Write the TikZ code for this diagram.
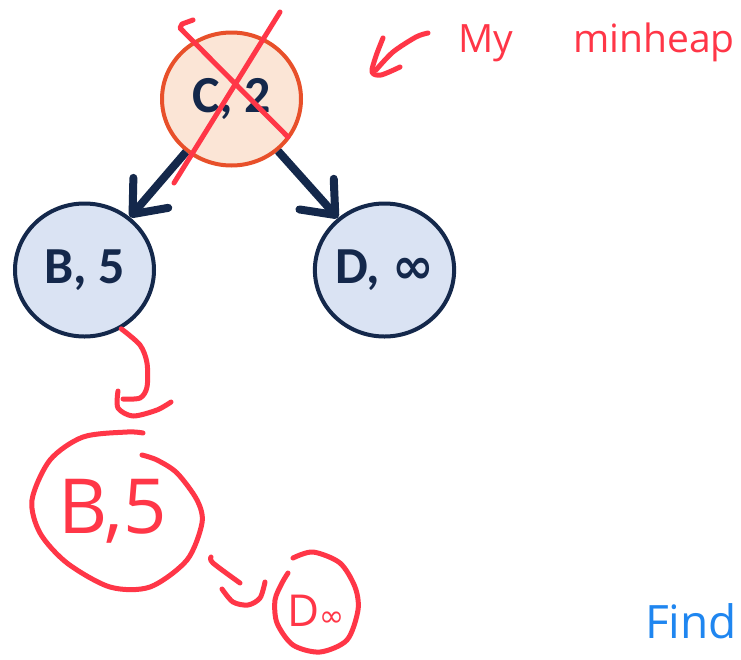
\documentclass[tikz,border=0pt]{standalone}
\usepackage{fontspec}
\setmainfont{Carlito}
\newfontfamily\handfont{Open Sans}
\newfontfamily\symfont{DejaVu Sans}
\usetikzlibrary{arrows.meta,shapes.geometric}
\definecolor{navy}{HTML}{14284B}
\definecolor{peach}{HTML}{FBE5D6}
\definecolor{orangeline}{HTML}{E8502A}
\definecolor{paleblue}{HTML}{DAE3F3}
\definecolor{hred}{HTML}{FF3647}
\definecolor{hblue}{HTML}{1F86F0}
\begin{document}
\begin{tikzpicture}[x=1pt,y=-1pt,
  heapnode/.style={ellipse, minimum width=139pt, minimum height=133pt, inner sep=0pt,
    line width=4pt, font=\fontsize{52}{52}\selectfont\bfseries, text=navy},
  topnode/.style={heapnode, draw=orangeline, fill=peach},
  childnode/.style={heapnode, draw=navy, fill=paleblue},
  heaparrow/.style={draw=navy, line width=8pt,
    -{Straight Barb[length=28pt, width=46pt, line cap=round, line join=round]}},
  hand/.style={draw=hred, line width=5pt, line cap=round, line join=round},
  handtext/.style={inner sep=0pt, text=hred, font=\handfont\fontsize{39}{39}\selectfont},
]
\useasboundingbox (0,0) rectangle (741,659);
\fill[white] (0,0) rectangle (741,659);

% heap nodes
\node[topnode]   (C) at (231.5,99) {C, 2};
\node[childnode] (B) at (84.5,270) {B, 5};
\node[childnode] (D) at (384.5,270) {D, {\symfont\fontsize{50}{50}\selectfont\bfseries ∞}};

\draw[heaparrow] (C) -- (B);
\draw[heaparrow] (C) -- (D);

% red cross over C
\draw[hand] (193,20) -- (182,24) -- (180,28) -- (288,137);
\draw[hand] (280,12) -- (174,183);

% "My minheap" note with arrow
\draw[hand] plot[smooth] coordinates {(428,33) (416,37) (393,52) (376,70)};
\draw[hand] plot[smooth] coordinates {(383,38) (376,56) (372,72) (381,75) (400,67)};
\node[handtext, anchor=base west] (my) at (458,52) {My};
\node[handtext, anchor=base west] (mh) at (573,52) {minheap};

% curly arrow from B down to the red B,5
\draw[hand] plot[smooth] coordinates {(B.-58) (140,345) (147,363) (147,387) (140,398) (123,399)};
\draw[hand] plot[smooth] coordinates {(118,391) (118,408) (133,416) (157,410) (171,402)};

% red circled B,5
\draw[hand] plot[smooth] coordinates {(143,433) (127,432) (83,437) (50,460) (32,500) (40,533)
  (67,563) (110,587) (150,587) (187,560) (202,523) (197,500) (177,473) (157,460) (142,455)};
\node[handtext, anchor=base west, font=\handfont\fontsize{76}{76}\selectfont] (b5) at (58,533) {B,5};

% small arrow to D
\draw[hand] plot[smooth] coordinates {(211,557) (213,563) (240,583)};
\draw[hand] plot[smooth] coordinates {(222,589) (233,602) (248,605) (260,598) (265,582)};

% small red circle with D∞
\draw[hand] plot[smooth] coordinates {(293,558) (313,552) (340,563) (355,587) (358,610)
  (347,640) (320,652) (293,645) (277,623) (275,600) (282,583) (288,573)};
\node[handtext, anchor=base, font=\handfont\fontsize{44}{44}\selectfont] (dinf) at (316,626) {D{\symfont\fontsize{30}{30}\selectfont ∞}};

% blue note
\node[inner sep=0pt, anchor=base west, text=hblue, font=\handfont\fontsize{46}{46}\selectfont] (find) at (645,638) {Find};
\end{tikzpicture}
\end{document}
